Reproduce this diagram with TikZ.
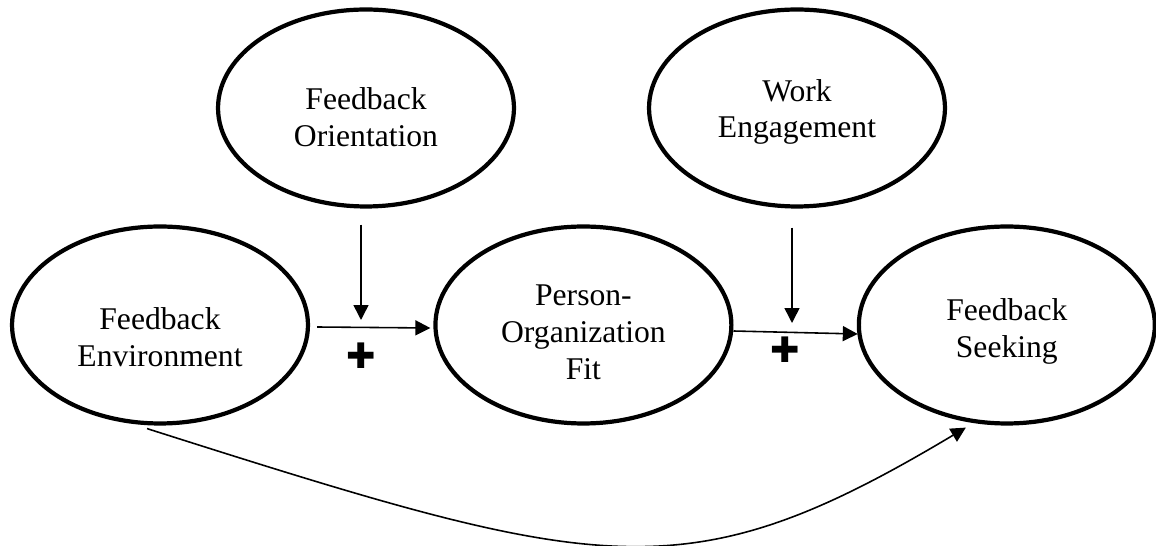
\documentclass[tikz,border=0pt]{standalone}
\usepackage{fontspec}
\setmainfont{Liberation Serif}
\newfontfamily\crossfont{DejaVu Sans}
\usetikzlibrary{shapes.geometric, arrows.meta, positioning}
\tikzset{
    ->, % every connector is directed
    >={Triangle[length=8.5pt, width=8.5pt]}, % filled arrow heads
    x=0.02cm, y=-0.02cm, % one unit is one pixel of the layout, y runs down
    construct/.style={ellipse, draw, line width=2.4pt, minimum width=5.92cm, minimum height=3.94cm, inner sep=0pt}, % the ovals
    words/.style={align=center, inner sep=0pt, font=\fontsize{18}{21}\selectfont}, % text inside the ovals
    link/.style={line width=0.9pt}, % arrows between the ovals
    possign/.style={inner sep=0pt, font=\crossfont\fontsize{20}{20}\selectfont}, % the plus marks
    node distance=8.47cm, % centre to centre along the bottom row
}
\begin{document}
\begin{tikzpicture}
    \useasboundingbox (0,0) rectangle (1156,546);
    \node[construct, label={[words, yshift=-0.24cm]center:{Feedback\\Environment}}] (fe) at (160,325) {};
    \node[construct, right of=fe, label={[words, yshift=-0.14cm]center:{Person-\\Organization\\Fit}}] (pof) {};
    \node[construct, right of=pof, label={[words, yshift=-0.12cm]center:{Feedback\\Seeking}}] (fs) {};
    \node[construct, label={[words, yshift=-0.18cm]center:{Feedback\\Orientation}}] (fo) at (366,108) {};
    \node[construct, label={[words, yshift=-0.08cm]center:{Work\\Engagement}}] (we) at (797,108) {};
    \coordinate (m1) at (361,320);
    \coordinate (m2) at (792,323);
    \node[possign] (plus1) at (361,356) {✚};
    \node[possign] (plus2) at (785,350) {✚};
    \draw[link] ([shift={(7,2)}]fe.east) -- ([shift={(-3,3)}]pof.west);
    \draw[link] ([shift={(0,6)}]pof.east) -- ([shift={(1,9)}]fs.west);
    \draw[link] ([shift={(-5,16)}]fo.south) -- (m1);
    \draw[link] ([shift={(-5,19)}]we.south) -- (m2);
    \draw[link] ([shift={(-13,3)}]fe.south) .. controls +(456,145) and +(-281,168) .. ([shift={(-41,2)}]fs.south);
\end{tikzpicture}
\end{document}
